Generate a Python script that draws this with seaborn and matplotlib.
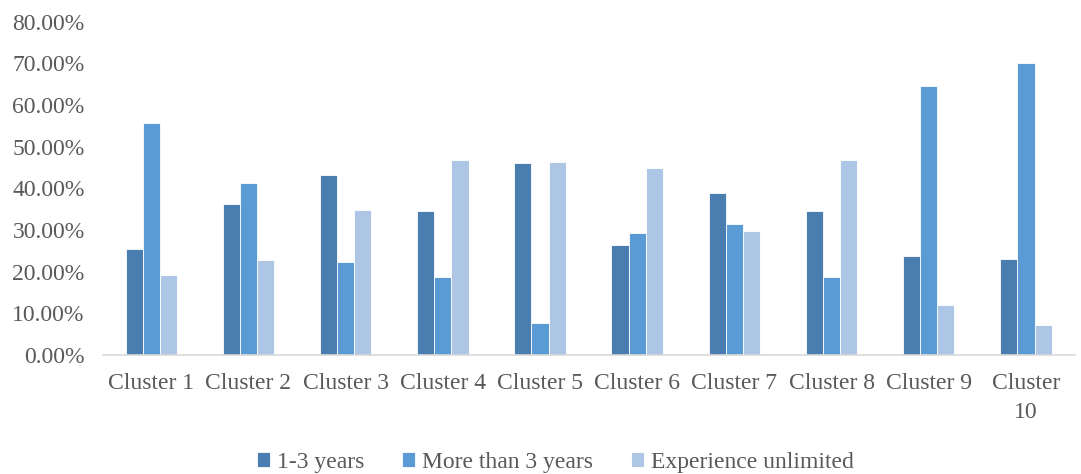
import matplotlib
matplotlib.use("Agg")
import matplotlib.pyplot as plt
import seaborn as sns
import pandas as pd
from matplotlib.ticker import FuncFormatter

clusters = ["Cluster 1", "Cluster 2", "Cluster 3", "Cluster 4", "Cluster 5",
            "Cluster 6", "Cluster 7", "Cluster 8", "Cluster 9", "Cluster\n10"]
series_names = ["1-3 years", "More than 3 years", "Experience unlimited"]
years_1_3 = [25.4, 36.3, 43.2, 34.5, 46.1, 26.3, 38.9, 34.5, 23.8, 23.1]
more_than_3 = [55.8, 41.3, 22.3, 18.8, 7.8, 29.2, 31.5, 18.8, 64.7, 70.0]
unlimited = [19.2, 22.7, 34.7, 46.9, 46.4, 45.0, 29.8, 46.9, 11.9, 7.3]
colors = ["#4A7EB0", "#5B9BD5", "#ADC6E5"]

rows = []
for name, vals in zip(series_names, [years_1_3, more_than_3, unlimited]):
    for c, v in zip(clusters, vals):
        rows.append({"Cluster": c, "Series": name, "Value": v / 100.0})
df = pd.DataFrame(rows)

sns.set_theme(style="white")
plt.rcParams['font.family'] = ['Liberation Serif', 'DejaVu Serif']

fig = plt.figure(figsize=(10.81, 4.74), dpi=100)
ax = fig.add_axes([0.095, 0.251, 0.899, 0.703])

sns.barplot(data=df, x="Cluster", y="Value", hue="Series", order=clusters,
            hue_order=series_names, palette=colors, saturation=1, width=0.53,
            edgecolor="white", linewidth=0.6, ax=ax, errorbar=None)

ax.set_ylim(0, 0.8)
ax.set_yticks([i / 10 for i in range(9)])
ax.yaxis.set_major_formatter(FuncFormatter(lambda v, p: f"{v*100:.2f}%"))
ax.set_xlabel("")
ax.set_ylabel("")
for s in ["top", "right", "left"]:
    ax.spines[s].set_visible(False)
ax.spines["bottom"].set_color("#D9D9D9")
ax.spines["bottom"].set_linewidth(1.2)
ax.tick_params(axis="y", length=0, pad=13, labelsize=17, labelcolor="#595959")
ax.tick_params(axis="x", length=0, pad=13, labelsize=17, labelcolor="#595959")
for t in ax.get_xticklabels():
    t.set_linespacing(1.5)
ax.set_xlim(-0.5, len(clusters) - 0.5)

handles, labels = ax.get_legend_handles_labels()
ax.legend(handles, labels, loc="center", bbox_to_anchor=(0.466, -0.322),
          ncol=3, frameon=False, fontsize=17, labelcolor="#595959",
          handlelength=0.55, handleheight=0.55, handletextpad=0.3, columnspacing=1.6)

fig.savefig("out.png", dpi=100)
